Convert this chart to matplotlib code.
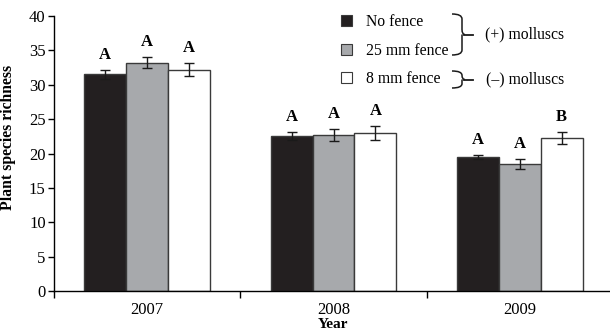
import matplotlib

matplotlib.use("Agg")
import matplotlib.pyplot as plt
import numpy as np
from matplotlib.patches import Patch, PathPatch
from matplotlib.path import Path

plt.rcParams["font.family"] = ["Liberation Serif", "DejaVu Serif"]

# ---- data -----------------------------------------------------------------
years = ["2007", "2008", "2009"]
treatments = ["No fence", "25 mm fence", "8 mm fence"]
no_fence = [31.5, 22.5, 19.5]
no_fence_err = [0.6, 0.6, 0.3]
fence_25 = [33.2, 22.7, 18.5]
fence_25_err = [0.8, 0.9, 0.7]
fence_8 = [32.2, 23.0, 22.3]
fence_8_err = [1.0, 1.0, 0.9]
letters_no_fence = ["A", "A", "A"]
letters_25 = ["A", "A", "A"]
letters_8 = ["A", "A", "B"]

colors = ["#231f20", "#a7a9ac", "#ffffff"]
W, H = 610, 333

fig = plt.figure(figsize=(W / 100, H / 100), dpi=100)
ax = fig.add_axes([54 / W, 1 - 291 / H, (613 - 54) / W, (291 - 16) / H])

x = np.arange(len(years))
bw = 0.225
series = [(no_fence, no_fence_err, letters_no_fence),
          (fence_25, fence_25_err, letters_25),
          (fence_8, fence_8_err, letters_8)]
for i, (vals, errs, lets) in enumerate(series):
    pos = x + (i - 1) * bw
    ax.bar(pos, vals, width=bw, color=colors[i], edgecolor="#3a3a3a",
           linewidth=1.0, zorder=2)
    ax.errorbar(pos, vals, yerr=errs, fmt="none", ecolor="#1a1a1a",
                elinewidth=1.0, capsize=3.5, capthick=1.0, zorder=3)
    for p, v, e, t in zip(pos, vals, errs, lets):
        ax.text(p, v + e + 1.0, t, ha="center", va="bottom",
                fontsize=12, fontweight="bold")

ax.set_xlim(-0.5, 2.5)
ax.set_ylim(0, 40)
ax.set_yticks(np.arange(0, 41, 5))
ax.set_xticks(x)
ax.set_xticklabels(years)
ax.set_xticks([-0.5, 0.5, 1.5], minor=True)
ax.tick_params(axis="x", which="major", length=0, pad=8, labelsize=12)
ax.tick_params(axis="x", which="minor", length=5, width=1.0)
ax.tick_params(axis="y", length=4, width=1.0, labelsize=12, pad=2)
for s in ["top", "right"]:
    ax.spines[s].set_visible(False)
for s in ["left", "bottom"]:
    ax.spines[s].set_linewidth(1.0)
ax.set_ylabel("Plant species richness", fontsize=11.3, fontweight="bold")
ax.yaxis.set_label_coords(-0.068, 0.56)
ax.set_xlabel("Year", fontsize=11, fontweight="bold", labelpad=0)

handles = [Patch(facecolor=c, edgecolor="#3a3a3a", linewidth=0.8) for c in colors]
ax.legend(handles, treatments, loc="upper left",
          bbox_to_anchor=(335 / W, 1 - 8 / H), bbox_transform=fig.transFigure,
          frameon=False, fontsize=11.3, handlelength=0.7, handleheight=0.7,
          handletextpad=0.9, labelspacing=0.8, borderaxespad=0)

# braces and molluscs labels, drawn in pixel coordinates on an overlay
ov = fig.add_axes([0, 0, 1, 1], zorder=5)
ov.set_xlim(0, W)
ov.set_ylim(H, 0)
ov.axis("off")


def brace(y0, y1, x0=452, w=10, tip=473):
    ym = (y0 + y1) / 2
    r = min(5, (y1 - y0) / 4)
    xr = x0 + w
    verts = [(x0, y0), (xr, y0), (xr, y0 + r),
             (xr, ym - r), (xr, ym), (xr + 3, ym),
             (xr, ym), (xr, ym + r),
             (xr, y1 - r), (xr, y1), (x0, y1)]
    codes = [Path.MOVETO, Path.CURVE3, Path.CURVE3,
             Path.LINETO, Path.CURVE3, Path.CURVE3,
             Path.MOVETO, Path.CURVE3,
             Path.LINETO, Path.CURVE3, Path.CURVE3]
    ov.add_patch(PathPatch(Path(verts, codes), fill=False, lw=1.1,
                           edgecolor="#1a1a1a"))
    ov.plot([xr + 2, tip], [ym, ym], color="#1a1a1a", lw=1.3)
    return ym


ym1 = brace(14, 55)
ov.text(485, ym1, "(+) molluscs", fontsize=11.3, va="center", ha="left")
ym2 = brace(71, 88)
ov.text(486, ym2, "(\u2013) molluscs", fontsize=11.3, va="center", ha="left")

fig.savefig("out.png", dpi=100)
